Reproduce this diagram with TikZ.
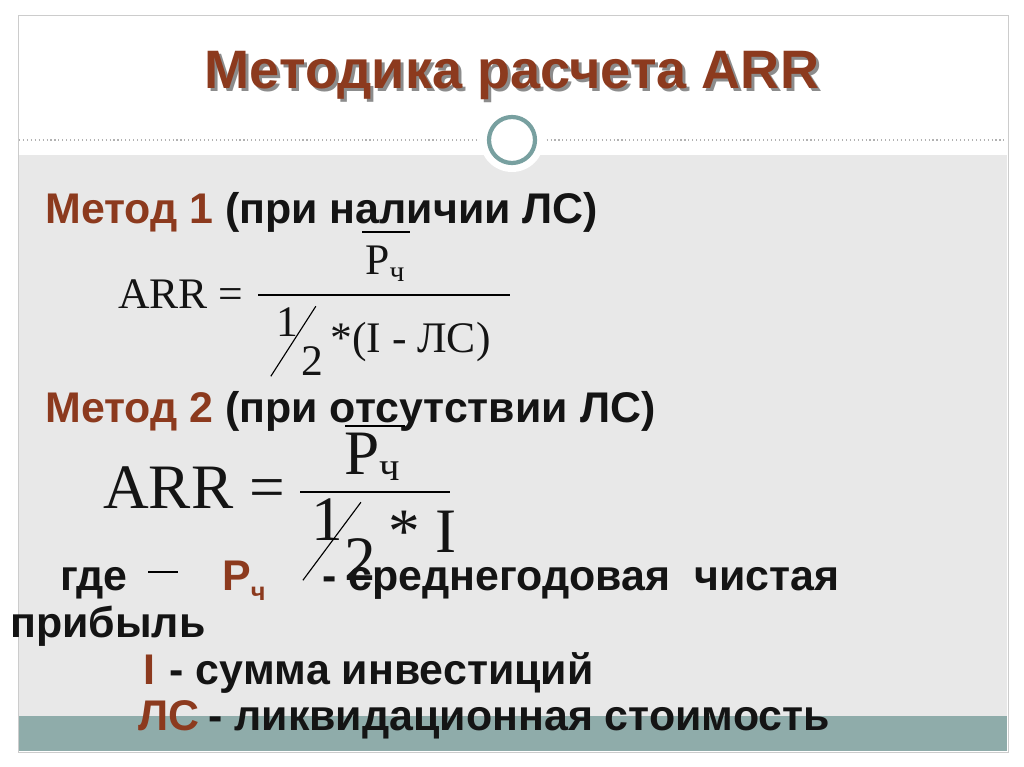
\documentclass[tikz,border=0pt]{standalone}
\usepackage{fontspec}
\setmainfont{Liberation Sans}
\newfontfamily\tms{Liberation Serif}
\usetikzlibrary{positioning}
\definecolor{titlecolor}{RGB}{140,58,30}
\definecolor{bodygray}{RGB}{232,232,232}
\definecolor{barteal}{RGB}{143,172,170}
\definecolor{ringteal}{RGB}{120,160,160}
\definecolor{textdark}{RGB}{20,20,20}
\newcommand{\fs}[1]{\fontsize{#1}{#1}\selectfont}
\begin{document}
\begin{tikzpicture}[
    x=0.025cm, y=-0.025cm,
    every node/.style={inner sep=0pt, text=textdark},
    bodytext/.style={font=\fs{30.5}\bfseries, anchor=base west},
    method/.style={bodytext, text=titlecolor},
    formA/.style={font=\tms\fs{31}},
    formB/.style={font=\tms\fs{45}}
]
\useasboundingbox (0,0) rectangle (1024,767);
\fill[white] (0,0) rectangle (1024,767);

% slide frame
\draw[gray!40] (18,15) rectangle (1008,752);
\fill[bodygray] (19,155) rectangle (1007,716);
\fill[barteal] (19,716) rectangle (1007,751);
\draw[gray!60, dotted, thick] (19,140) -- (1007,140);

% circle
\fill[white] (512,140) circle (32);
\draw[ringteal, line width=3pt] (512,140) circle (23);

% title
\node[font=\fs{38.5}\bfseries, text=black!45] at (515,78) {Методика расчета ARR};
\node[font=\fs{38.5}\bfseries, text=titlecolor] (title) at (512,75) {Методика расчета ARR};

% Метод 1
\node[method] (m1) at (45,224) {Метод 1};
\node[bodytext, right=8pt of m1.base east, anchor=base west] (m1t) {(при наличии ЛС)};

% formula 1
\node[formA, anchor=base west] (arr1) at (118,308) {ARR =};
\draw[thick] (258,295) -- (510,295);
\node[formA, anchor=base] (num1) at (385,275) {Р\raisebox{-0.15em}{\fs{21}ч}};
\draw[thick] (362,232) -- (410,232);
\node[formA, anchor=base] (one1) at (287,336) {1};
\node[formA, anchor=base] (two1) at (312,375) {2};
\draw[thick] (one1.south west) ++(-5,40) -- ++(45,-70);
\node[formA, anchor=base west] (den1) at (330,352) {*(I - ЛС)};

% Метод 2
\node[method] (m2) at (45,422) {Метод 2};
\node[bodytext, right=8pt of m2.base east, anchor=base west] (m2t) {(при отсутствии ЛС)};

% formula 2
\node[formB, anchor=base west] (arr2) at (103,508) {ARR =};
\draw[thick] (300,492) -- (450,492);
\node[formB, anchor=base] (num2) at (372,474) {Р\raisebox{-0.1em}{\fs{29}ч}};
\draw[thick] (345,426) -- (405,426);
\node[formB, anchor=base] (one2) at (327,540) {1};
\node[formB, anchor=base] (two2) at (360,580) {2};
\draw[thick] (one2.south west) ++(-8,40) -- ++(58,-78);
\node[formB, anchor=base west] (den2) at (388,552) {* I};

% legend
\node[bodytext] (gde) at (60,590) {где};
\draw[thick] (148,572) -- (178,572);
\node[bodytext, text=titlecolor] (pc) at (222,590) {Р\raisebox{-0.25em}{\fs{18}ч}};
\node[bodytext] (pcd) at (322,590) {- среднегодовая\ \ чистая};
\node[bodytext] (prib) at (10,637) {прибыль};
\node[bodytext, text=titlecolor] (inv) at (143,684) {I};
\node[bodytext, right=10pt of inv.base east, anchor=base west] (invd) {- сумма инвестиций};
\node[bodytext, text=titlecolor] (ls) at (138,730) {ЛС};
\node[bodytext, right=6pt of ls.base east, anchor=base west] (lsd) {- ликвидационная стоимость};
\end{tikzpicture}
\end{document}
